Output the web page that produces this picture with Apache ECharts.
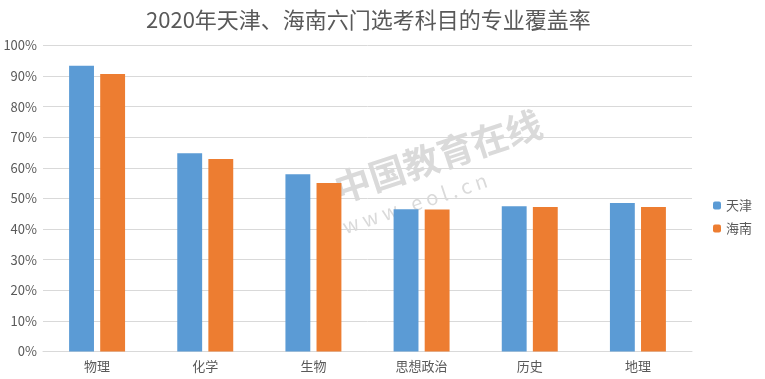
<!DOCTYPE html>
<html><head><meta charset="utf-8">
<script src="https://cdn.jsdelivr.net/npm/echarts@6/dist/echarts.min.js"></script>
<style>html,body{margin:0;padding:0;background:#fff}#c{width:765px;height:379px}</style>
</head><body><div id="c"></div>
<script>
const categories = ['物理','化学','生物','思想政治','历史','地理'];
const tianjin = [93.4, 64.8, 57.9, 46.5, 47.5, 48.5];
const hainan = [90.7, 62.9, 55.1, 46.4, 47.2, 47.2];
const seriesNames = ['天津','海南'];
const font = '"Noto Sans CJK SC", "Microsoft YaHei", sans-serif';
const chart = echarts.init(document.getElementById('c'));
chart.setOption({
  animation: false,
  title: { text: '2020年天津、海南六门选考科目的专业覆盖率', left: 141, top: 4,
    textStyle: { fontSize: 22, fontWeight: 'normal', color: '#595959', fontFamily: font } },
  legend: { orient: 'vertical', right: 8, top: 194, itemWidth: 8, itemHeight: 8, itemGap: 10,
    data: seriesNames, textStyle: { fontSize: 13, color: '#595959', fontFamily: font } },
  grid: { left: 43, right: 73, top: 45.5, bottom: 27.5 },
  xAxis: { type: 'category', data: categories,
    axisLine: { lineStyle: { color: '#d9d9d9' } }, axisTick: { show: false },
    axisLabel: { color: '#595959', fontSize: 13, fontFamily: font, margin: 8 } },
  yAxis: { type: 'value', min: 0, max: 100, interval: 10,
    axisLabel: { formatter: '{value}%', color: '#595959', fontSize: 13, fontFamily: font, margin: 6 },
    splitLine: { lineStyle: { color: '#d9d9d9' } }, axisLine: { show: false }, axisTick: { show: false } },
  graphic: [
    { type: 'text', left: 330, top: 105, rotation: 0.32, z: 0,
      style: { text: '中国教育在线', fontSize: 36, fontWeight: 'bold', fill: 'rgba(150,150,150,0.35)', fontFamily: font } },
    { type: 'text', left: 340, top: 170, rotation: 0.32, z: 0,
      style: { text: 'w w w . e o l . c n', fontSize: 20, fill: 'rgba(150,150,150,0.35)', fontFamily: font } }
  ],
  series: [
    { name: seriesNames[0], type: 'bar', data: tianjin, barWidth: '23%', barGap: '25%',
      itemStyle: { color: '#5b9bd5' } },
    { name: seriesNames[1], type: 'bar', data: hainan, barWidth: '23%', barGap: '25%',
      itemStyle: { color: '#ed7d31' } }
  ]
});
</script></body></html>
